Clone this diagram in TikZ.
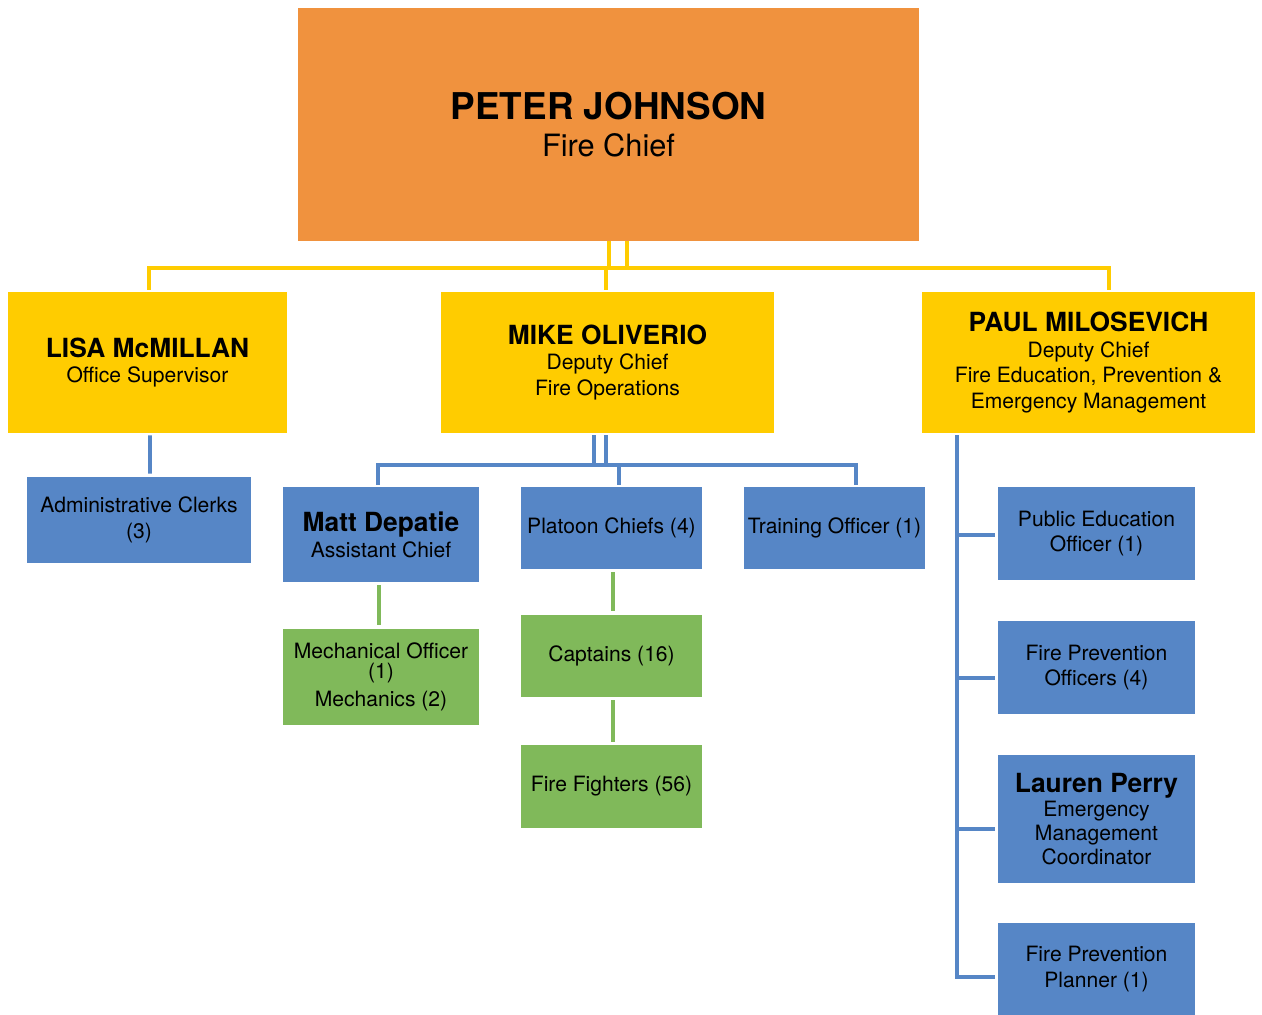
\documentclass[tikz,border=0pt]{standalone}
\usepackage{fontspec}
\setmainfont{TeX Gyre Heros}
\definecolor{chieforange}{HTML}{F0923E}
\definecolor{deputyyellow}{HTML}{FFCC00}
\definecolor{staffblue}{HTML}{5686C6}
\definecolor{crewgreen}{HTML}{80B95A}
\newcommand{\bodyfont}{\fontsize{12}{14.7}\selectfont}
\newcommand{\namefont}{\fontsize{15}{17}\selectfont\bfseries}
\tikzset{
  box/.style={inner sep=0pt, align=center, text=black, font=\bodyfont},
  chiefbox/.style={box, fill=chieforange},
  deputybox/.style={box, fill=deputyyellow},
  staffbox/.style={box, fill=staffblue},
  crewbox/.style={box, fill=crewgreen},
  yline/.style={draw=deputyyellow, line width=2.2pt},
  bline/.style={draw=staffblue, line width=2.2pt},
  gline/.style={draw=crewgreen, line width=2.2pt}
}
\begin{document}
\begin{tikzpicture}[x=0.02cm,y=-0.02cm]
\useasboundingbox (0,0) rectangle (1262,1015);
% chief and deputies
\node[chiefbox, font=\fontsize{17.5}{21.5}\selectfont, minimum width=12.42cm, minimum height=4.66cm] (chief) at (608.5,124.5)
  {{\fontsize{21}{24}\selectfont\bfseries PETER JOHNSON}\\Fire Chief};
\node[deputybox, minimum width=5.58cm, minimum height=2.82cm] (lisa) at (147.5,362.5)
  {{\namefont LISA McMILLAN}\\Office Supervisor};
\node[deputybox, minimum width=6.66cm, minimum height=2.82cm] (mike) at (607.5,362.5)
  {{\namefont MIKE OLIVERIO}\\Deputy Chief\\Fire Operations};
\node[deputybox, minimum width=6.66cm, minimum height=2.82cm] (paul) at (1088.5,362.5)
  {{\namefont PAUL MILOSEVICH}\\Deputy Chief\\Fire Education, Prevention \&\\Emergency Management};
% office
\node[staffbox, minimum width=4.48cm, minimum height=1.72cm] (admin) at (139,520)
  {Administrative Clerks\\(3)};
% operations
\node[staffbox, minimum width=3.92cm, minimum height=1.9cm] (matt) at (381,534.5)
  {{\namefont Matt Depatie}\\Assistant Chief};
\node[staffbox, minimum width=3.62cm, minimum height=1.64cm] (platoon) at (611.5,528)
  {Platoon Chiefs (4)};
\node[staffbox, minimum width=3.62cm, minimum height=1.64cm] (training) at (834.5,528)
  {Training Officer (1)};
\node[crewbox, minimum width=3.92cm, minimum height=1.92cm] (mech) at (381,677)
  {Mechanical Officer\\[-3.5pt](1)\\[1.7pt]Mechanics (2)};
\node[crewbox, minimum width=3.62cm, minimum height=1.64cm] (captains) at (611.5,656)
  {Captains (16)};
\node[crewbox, minimum width=3.62cm, minimum height=1.66cm] (ff) at (611.5,786.5)
  {Fire Fighters (56)};
% prevention
\node[staffbox, minimum width=3.94cm, minimum height=1.86cm] (pubed) at (1096.5,533.5)
  {Public Education\\Officer (1)};
\node[staffbox, minimum width=3.94cm, minimum height=1.86cm] (fpo) at (1096.5,667.5)
  {Fire Prevention\\Officers (4)};
\node[staffbox, minimum width=3.94cm, minimum height=2.56cm] (lauren) at (1096.5,819)
  {{\namefont Lauren Perry}\\[-1pt]Emergency\\[-1pt]Management\\[-1pt]Coordinator};
\node[staffbox, minimum width=3.94cm, minimum height=1.84cm] (planner) at (1096.5,969)
  {Fire Prevention\\Planner (1)};
% yellow links
\draw[yline] ([shift={(1.5,-2)}]lisa.north) -- ++(0,-22) -| ([shift={(20.5,-2)}]paul.north);
\draw[yline] ([shift={(0.5,0)}]chief.south) -- ++(0,27);
\draw[yline] ([shift={(18.5,0)}]chief.south) -- ++(0,27);
\draw[yline] ([shift={(-1.5,-2)}]mike.north) -- ++(0,-22);
% blue links
\draw[bline] ([shift={(2.5,2)}]lisa.south) -- ([shift={(11,-3)}]admin.north);
\draw[bline] ([shift={(-13.5,2)}]mike.south) -- ++(0,30);
\draw[bline] ([shift={(-1.5,2)}]mike.south) -- ++(0,30);
\draw[bline] ([shift={(-3,-2)}]matt.north) -- ++(0,-20) -| ([shift={(21.5,-2)}]training.north);
\draw[bline] ([shift={(7.5,-2)}]platoon.north) -- ++(0,-20);
\coordinate (rbus) at ([shift={(35,2)}]paul.south west);
\draw[bline] (rbus) |- ([shift={(-3,8)}]planner.west);
\foreach \n/\dy in {pubed/1.5, fpo/10.5, lauren/10}
  \draw[bline] ([shift={(-3,\dy)}]\n.west) -| (rbus);
% green links
\draw[gline] ([shift={(-2,3)}]matt.south) -- ([shift={(-2,-4)}]mech.north);
\draw[gline] ([shift={(1.5,3)}]platoon.south) -- ([shift={(1.5,-4)}]captains.north);
\draw[gline] ([shift={(1.5,3)}]captains.south) -- ([shift={(1.5,-3)}]ff.north);
\end{tikzpicture}
\end{document}
